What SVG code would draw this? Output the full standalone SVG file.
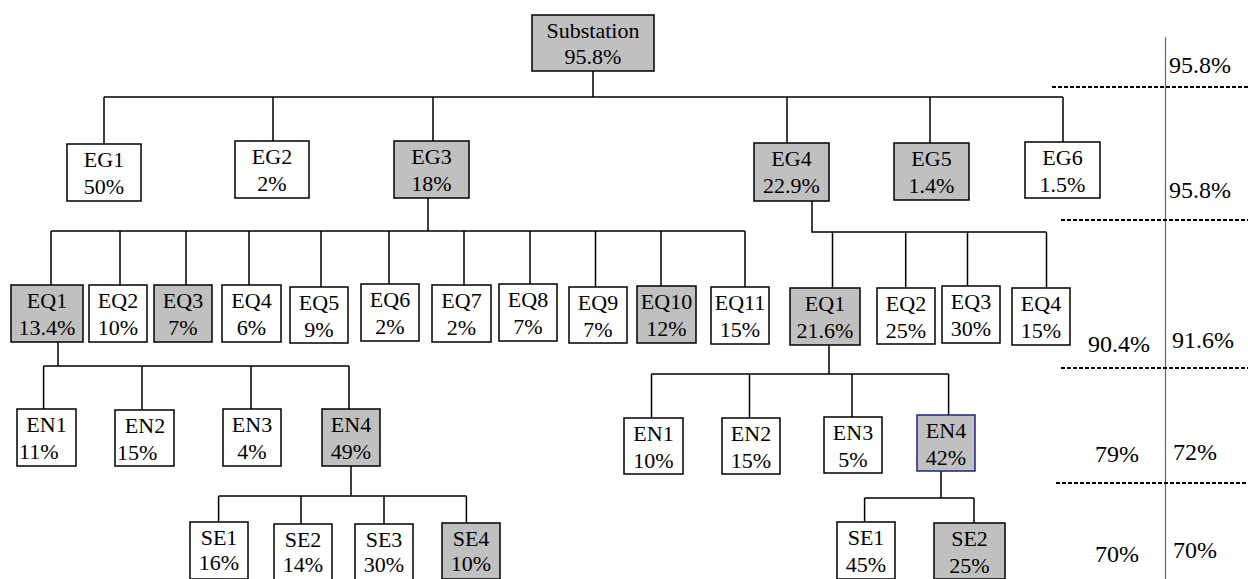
<svg xmlns="http://www.w3.org/2000/svg" width="1248" height="579" viewBox="0 0 1248 579">
<style>
.b{fill:#fff;stroke:#000;stroke-width:1.5}
.g{fill:#c0c0c0;stroke:#000;stroke-width:1.5}
.n{fill:#c0c0c0;stroke:#1f1f8f;stroke-width:1.5}
text{font-family:'Liberation Serif','Times New Roman',Times,'DejaVu Serif','Noto Serif',serif;fill:#000}
.t{font-size:22px;text-anchor:middle}
.ts{font-size:22px}
.r{font-size:24px}
.c{fill:none;stroke:#000;stroke-width:1.5}
.d{fill:none;stroke:#000;stroke-width:2;stroke-dasharray:4 2}
</style>
<rect width="1248" height="579" fill="#fff"/>
<g id="connectors" class="c">
<path d="M593,71V97M104,97H1063M104,97V144M273,97V141M433,97V141M787,97V143M930,97V143M1063,97V142"/>
<path d="M428,198V231M51,231H745M51,231V285M120,231V285M186,231V285M249,231V285M321,231V287M389,231V284M464,231V285M530,231V284M595.5,231V287M661,231V286M745,231V287"/>
<path d="M812,201V232H1046.5M832.5,232V288M905.7,232V288M967.5,232V286M1046.5,232V288"/>
<path d="M58,342V366M43.6,366H349M43.6,366V409M142,366V410M251,366V409M349,366V409"/>
<path d="M351,466V496M218.6,496H466.4M218.6,496V522M301,496V524M384,496V524M466.4,496V523"/>
<path d="M829,345V374M651.5,374H948.6M651.5,374V418M749.5,374V418M852,374V417M948.6,374V415"/>
<path d="M941,471V498M864.6,498H974M864.6,498V522M974,498V523"/>
</g>
<g id="scale" font-family="Liberation Serif, serif">
<line x1="1165.5" y1="37" x2="1165.5" y2="579" stroke="#666" stroke-width="1.2"/>
<line class="d" x1="1052" y1="87" x2="1248" y2="87"/>
<line class="d" x1="1061" y1="220" x2="1248" y2="220"/>
<line class="d" x1="1061" y1="368" x2="1248" y2="368"/>
<line class="d" x1="1056" y1="483" x2="1248" y2="483"/>
<text class="r" x="1169" y="73">95.8%</text>
<text class="r" x="1169" y="198">95.8%</text>
<text class="r" x="1088" y="352">90.4%</text>
<text class="r" x="1172" y="348">91.6%</text>
<text class="r" x="1095" y="462">79%</text>
<text class="r" x="1173" y="460">72%</text>
<text class="r" x="1095" y="562">70%</text>
<text class="r" x="1173" y="558">70%</text>
</g>
<g id="substation"><rect class="g" x="532" y="15" width="122" height="56"/><text class="t" x="593" y="38">Substation</text><text class="t" x="593" y="64">95.8%</text></g>
<g id="EG1"><rect class="b" x="67" y="144" width="74" height="57"/><text class="t" x="104" y="167">EG1</text><text class="t" x="104" y="194">50%</text></g>
<g id="EG2"><rect class="b" x="235" y="141" width="74" height="57"/><text class="t" x="272" y="164">EG2</text><text class="t" x="272" y="191">2%</text></g>
<g id="EG3"><rect class="g" x="394" y="141" width="75" height="57"/><text class="t" x="431.5" y="164">EG3</text><text class="t" x="431.5" y="191">18%</text></g>
<g id="EG4"><rect class="g" x="754" y="143" width="75" height="58"/><text class="t" x="791.5" y="166">EG4</text><text class="t" x="791.5" y="193">22.9%</text></g>
<g id="EG5"><rect class="g" x="894" y="143" width="75" height="57"/><text class="t" x="931.5" y="166">EG5</text><text class="t" x="931.5" y="193">1.4%</text></g>
<g id="EG6"><rect class="b" x="1025" y="142" width="75" height="56"/><text class="t" x="1062.5" y="165">EG6</text><text class="t" x="1062.5" y="192">1.5%</text></g>
<g id="EG3-EQ1"><rect class="g" x="11" y="285" width="72" height="57"/><text class="t" x="47" y="308">EQ1</text><text class="t" x="47" y="335">13.4%</text></g>
<g id="EG3-EQ2"><rect class="b" x="89" y="285" width="58" height="57"/><text class="t" x="118" y="308">EQ2</text><text class="t" x="118" y="335">10%</text></g>
<g id="EG3-EQ3"><rect class="g" x="154" y="285" width="58" height="57"/><text class="t" x="183" y="308">EQ3</text><text class="t" x="183" y="335">7%</text></g>
<g id="EG3-EQ4"><rect class="b" x="222" y="285" width="59" height="57"/><text class="t" x="251.5" y="308">EQ4</text><text class="t" x="251.5" y="335">6%</text></g>
<g id="EG3-EQ5"><rect class="b" x="290" y="287" width="58" height="56"/><text class="t" x="319" y="310">EQ5</text><text class="t" x="319" y="337">9%</text></g>
<g id="EG3-EQ6"><rect class="b" x="361" y="284" width="58" height="57"/><text class="t" x="390" y="307">EQ6</text><text class="t" x="390" y="334">2%</text></g>
<g id="EG3-EQ7"><rect class="b" x="432" y="285" width="59" height="57"/><text class="t" x="461.5" y="308">EQ7</text><text class="t" x="461.5" y="335">2%</text></g>
<g id="EG3-EQ8"><rect class="b" x="499" y="284" width="58" height="57"/><text class="t" x="528" y="307">EQ8</text><text class="t" x="528" y="334">7%</text></g>
<g id="EG3-EQ9"><rect class="b" x="569" y="287" width="58" height="56"/><text class="t" x="598" y="310">EQ9</text><text class="t" x="598" y="337">7%</text></g>
<g id="EG3-EQ10"><rect class="g" x="637" y="286" width="59" height="57"/><text class="t" x="666.5" y="309">EQ10</text><text class="t" x="666.5" y="336">12%</text></g>
<g id="EG3-EQ11"><rect class="b" x="711" y="287" width="58" height="57"/><text class="t" x="740" y="310">EQ11</text><text class="t" x="740" y="337">15%</text></g>
<g id="EG4-EQ1"><rect class="g" x="790" y="288" width="70" height="57"/><text class="t" x="825" y="311">EQ1</text><text class="t" x="825" y="338">21.6%</text></g>
<g id="EG4-EQ2"><rect class="b" x="877" y="288" width="58" height="56"/><text class="t" x="906" y="311">EQ2</text><text class="t" x="906" y="338">25%</text></g>
<g id="EG4-EQ3"><rect class="b" x="942" y="286" width="58" height="57"/><text class="t" x="971" y="309">EQ3</text><text class="t" x="971" y="336">30%</text></g>
<g id="EG4-EQ4"><rect class="b" x="1012" y="288" width="58" height="57"/><text class="t" x="1041" y="311">EQ4</text><text class="t" x="1041" y="338">15%</text></g>
<g id="L-EN1"><rect class="b" x="17" y="409" width="59" height="57"/><text class="t" x="46.5" y="432">EN1</text><text class="ts" x="19" y="459">11%</text></g>
<g id="L-EN2"><rect class="b" x="115" y="410" width="59" height="56"/><text class="t" x="145" y="433">EN2</text><text class="ts" x="117" y="460">15%</text></g>
<g id="L-EN3"><rect class="b" x="223" y="409" width="58" height="57"/><text class="t" x="252" y="432">EN3</text><text class="t" x="252" y="459">4%</text></g>
<g id="L-EN4"><rect class="g" x="322" y="409" width="58" height="57"/><text class="t" x="351" y="432">EN4</text><text class="t" x="351" y="459">49%</text></g>
<g id="L-SE1"><rect class="b" x="190" y="522" width="58" height="57"/><text class="t" x="219" y="545">SE1</text><text class="t" x="219" y="570">16%</text></g>
<g id="L-SE2"><rect class="b" x="274" y="524" width="58" height="56"/><text class="t" x="303" y="547">SE2</text><text class="t" x="303" y="572">14%</text></g>
<g id="L-SE3"><rect class="b" x="355" y="524" width="58" height="56"/><text class="t" x="384" y="547">SE3</text><text class="t" x="384" y="572">30%</text></g>
<g id="L-SE4"><rect class="g" x="442" y="523" width="58" height="56"/><text class="t" x="471" y="546">SE4</text><text class="t" x="471" y="571">10%</text></g>
<g id="R-EN1"><rect class="b" x="624" y="418" width="59" height="56"/><text class="t" x="653.5" y="441">EN1</text><text class="t" x="653.5" y="468">10%</text></g>
<g id="R-EN2"><rect class="b" x="722" y="418" width="58" height="56"/><text class="t" x="751" y="441">EN2</text><text class="t" x="751" y="468">15%</text></g>
<g id="R-EN3"><rect class="b" x="824" y="417" width="58" height="56"/><text class="t" x="853" y="440">EN3</text><text class="t" x="853" y="467">5%</text></g>
<g id="R-EN4"><rect class="n" x="917" y="415" width="58" height="56"/><text class="t" x="946" y="438">EN4</text><text class="t" x="946" y="465">42%</text></g>
<g id="R-SE1"><rect class="b" x="837" y="522" width="58" height="57"/><text class="t" x="866" y="545">SE1</text><text class="t" x="866" y="572">45%</text></g>
<g id="R-SE2"><rect class="g" x="934" y="523" width="71" height="56"/><text class="t" x="969.5" y="546">SE2</text><text class="t" x="969.5" y="573">25%</text></g>
</svg>
